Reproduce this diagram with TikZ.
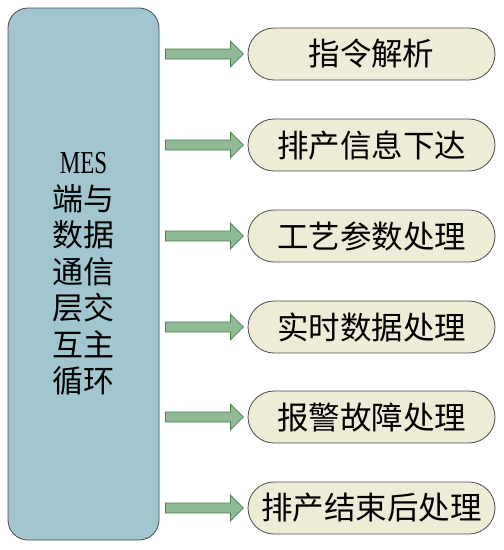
\documentclass[tikz,border=0pt]{standalone}
\usepackage{fontspec}
\setmainfont{Noto Sans CJK SC}
\newfontfamily\mesfont[FakeStretch=0.72]{Liberation Serif}
\usetikzlibrary{calc}
\definecolor{boxfill}{HTML}{A2C6CF}
\definecolor{pillfill}{HTML}{EEEBD6}
\definecolor{arrfill}{HTML}{90BA96}
\definecolor{arrline}{HTML}{4F7B55}
\definecolor{edge}{HTML}{4A4A4A}
\tikzset{
  mainbox/.style={draw=edge, line width=0.8pt, fill=boxfill, rounded corners=20pt,
    minimum width=151pt, minimum height=532pt, inner sep=0pt},
  pill/.style={draw=edge, line width=0.8pt, fill=pillfill, rounded corners=26pt,
    minimum width=247pt, minimum height=52pt, inner sep=0pt, font=\fontsize{31.5}{31.5}\selectfont},
  barrow/.style={draw=arrline, line width=0.8pt, fill=arrfill, line join=miter},
}
\begin{document}
\begin{tikzpicture}[x=1pt,y=-1pt]
\useasboundingbox (0,0) rectangle (504,550);
\node[mainbox] (box) at (83.5,274) {};
\node[align=center, font=\fontsize{31}{36.5}\selectfont] (lbl) at (83.5,274)
  {{\mesfont\fontsize{32}{36.5}\selectfont MES}\\端与\\数据\\通信\\层交\\互主\\循环};
\node[pill] (p1) at (371.5,54) {指令解析};
\node[pill] (p2) at (371.5,145) {排产信息下达};
\node[pill] (p3) at (371.5,236) {工艺参数处理};
\node[pill] (p4) at (371.5,327) {实时数据处理};
\node[pill] (p5) at (371.5,417) {报警故障处理};
\node[pill] (p6) at (371.5,508) {排产结束后处理};
\foreach \i in {1,...,6}{
  \draw[barrow] ($(box.east|-p\i.west)+(6,-5)$) -- ++(65,0) -- ++(0,-8) -- ++(13,13)
    -- ++(-13,13) -- ++(0,-8) -- ++(-65,0) -- cycle;
}
\end{tikzpicture}
\end{document}
